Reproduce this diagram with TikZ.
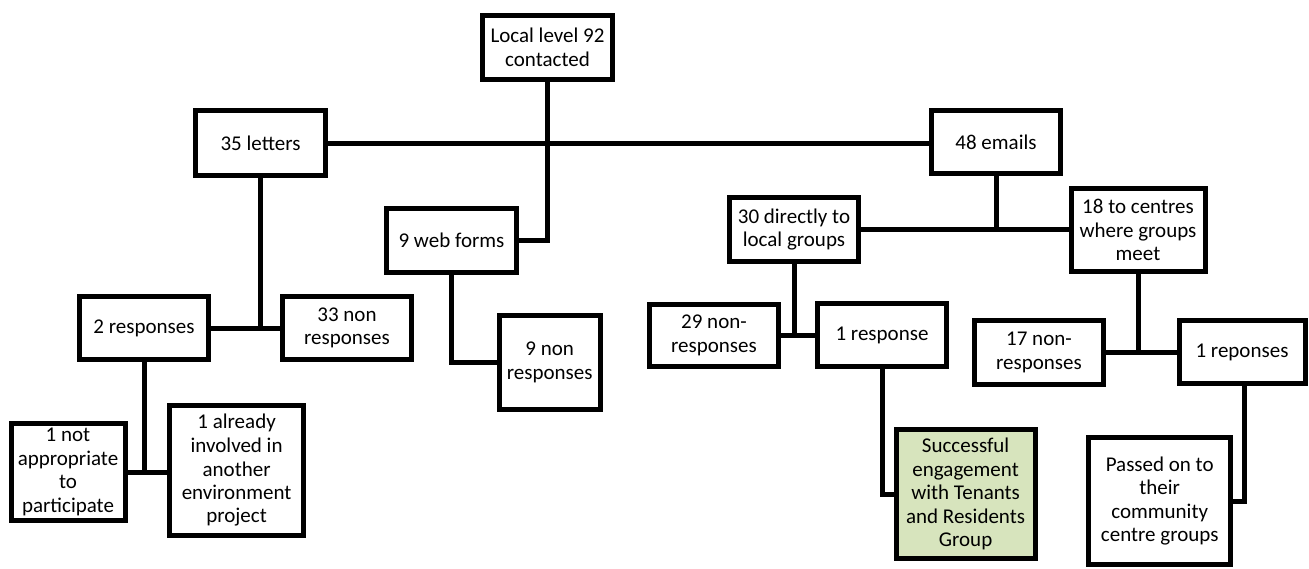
\documentclass[tikz,border=0pt]{standalone}
\usepackage{fontspec}
\setmainfont{Carlito}
\definecolor{boxgreen}{HTML}{D7E4BD}
\begin{document}
\begin{tikzpicture}[x=1pt,y=-1pt,
  box/.style={draw=black, line width=5pt, align=center, inner xsep=2pt, inner ysep=2pt,
    font=\fontsize{21}{23.5}\selectfont, fill=white},
  link/.style={draw=black, line width=5pt}]
\useasboundingbox (0,0) rectangle (1309,568);
% nodes
\node[box, minimum width=130, minimum height=64] (top) at (547.5,47.5) {Local level 92\\contacted};
\node[box, minimum width=130, minimum height=65] (letters) at (260.5,143) {35 letters};
\node[box, minimum width=130, minimum height=64] (web) at (451.5,240.5) {9 web forms};
\node[box, minimum width=128.5, minimum height=63] (emails) at (996,142) {48 emails};
\node[box, minimum width=129, minimum height=64] (direct) at (794,229.5) {30 directly to\\local groups};
\node[box, minimum width=134, minimum height=83] (centres) at (1138,230) {18 to centres\\where groups\\meet};
\node[box, minimum width=129, minimum height=63] (resp2) at (144,328) {2 responses};
\node[box, minimum width=129.5, minimum height=63] (non33) at (347,328) {33 non\\responses};
\node[box, minimum width=114, minimum height=97] (notapp) at (68,472) {1 not\\appropriate\\to\\participate};
\node[box, minimum width=134, minimum height=130] (already) at (236.6,470.5) {1 already\\involved in\\another\\environment\\project};
\node[box, minimum width=101, minimum height=94] (non9) at (549.7,362.5) {9 non\\responses};
\node[box, minimum width=129, minimum height=62] (non29) at (714,335.5) {29 non-\\responses};
\node[box, minimum width=129, minimum height=63] (resp1) at (882,335) {1 response};
\node[box, fill=boxgreen, minimum width=139, minimum height=129] (green) at (965.6,494) {Successful\\engagement\\with Tenants\\and Residents\\Group};
\node[box, minimum width=129, minimum height=64] (non17) at (1039,352.5) {17 non-\\responses};
\node[box, minimum width=126, minimum height=63] (rep1) at (1242,352) {1 reponses};
\node[box, minimum width=142, minimum height=127] (passed) at (1159.7,501) {Passed on to\\their\\community\\centre groups};
% connectors
\draw[link] (letters.east) -- (letters.east -| emails.west);
\draw[link] (top.south) |- (web.east);
\draw[link] (resp2.east) -- (resp2.east -| non33.west);
\draw[link] (letters.south) -- (letters.south |- resp2.east);
\draw[link] (web.south) |- (non9.west);
\draw[link] (notapp.east) -- (notapp.east -| already.west);
\draw[link] (resp2.south) -- (resp2.south |- notapp.east);
\draw[link] (direct.east) -- (direct.east -| centres.west);
\draw[link] (emails.south) -- (emails.south |- direct.east);
\draw[link] (non29.east) -- (non29.east -| resp1.west);
\draw[link] (direct.south) -- (direct.south |- non29.east);
\draw[link] (resp1.south) |- (green.west);
\draw[link] (non17.east) -- (non17.east -| rep1.west);
\draw[link] (centres.south) -- (centres.south |- non17.east);
\draw[link] ([xshift=2.5pt]rep1.south) |- (passed.east);
\end{tikzpicture}
\end{document}
